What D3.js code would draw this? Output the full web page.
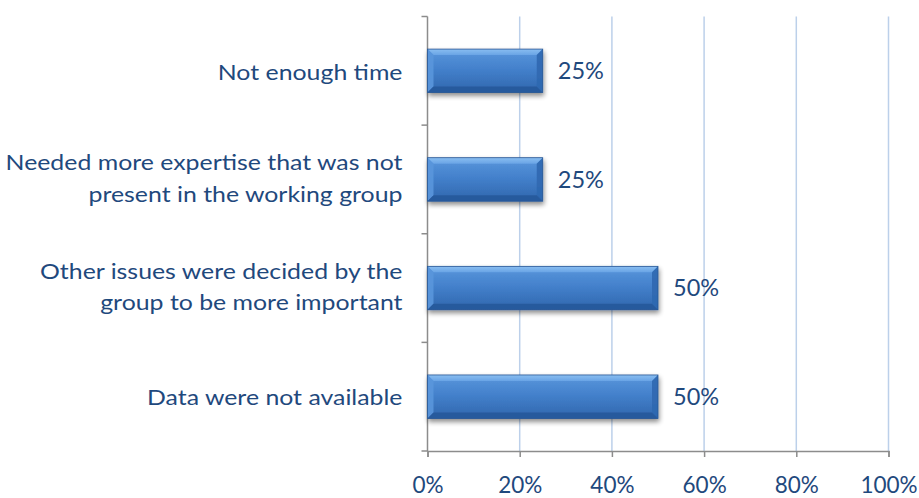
<!DOCTYPE html>
<html>
<head>
<meta charset="utf-8">
<script src="https://cdn.jsdelivr.net/npm/d3@7"></script>
<style>
  html, body { margin: 0; padding: 0; background: #fff; }
  svg { display: block; }
</style>
</head>
<body>
<svg id="chart" width="919" height="498"></svg>
<script>
const categories = [
  "Not enough time",
  "Needed more expertise that was not\npresent in the working group",
  "Other issues were decided by the\ngroup to be more important",
  "Data were not available"
];
const values = [25, 25, 50, 50];
const tickValues = [0, 20, 40, 60, 80, 100];
const tickLabels = ["0%", "20%", "40%", "60%", "80%", "100%"];

const W = 919, H = 498;
const margin = { left: 427.5, right: 30.5, top: 16.5, bottom: 47 };
const svg = d3.select("#chart");
const textColor = "#1F497D";
const fontFamily = "Lato, 'Open Sans', sans-serif";

const x = d3.scaleLinear().domain([0, 100]).range([margin.left, W - margin.right]);
const y = d3.scaleBand().domain(categories).range([margin.top, H - margin.bottom])
  .paddingInner(0.6).paddingOuter(0.3);

const defs = svg.append("defs");
const grad = defs.append("linearGradient").attr("id", "barGrad")
  .attr("x1", 0).attr("y1", 0).attr("x2", 0).attr("y2", 1);
grad.append("stop").attr("offset", "0%").attr("stop-color", "#5a97dc");
grad.append("stop").attr("offset", "45%").attr("stop-color", "#4481cc");
grad.append("stop").attr("offset", "100%").attr("stop-color", "#2f66ad");

const topGrad = defs.append("linearGradient").attr("id", "topGrad")
  .attr("x1", 0).attr("y1", 0).attr("x2", 0).attr("y2", 1);
topGrad.append("stop").attr("offset", "0%").attr("stop-color", "#8cc0f2");
topGrad.append("stop").attr("offset", "100%").attr("stop-color", "#6aa5e6");

const shadow = defs.append("filter").attr("id", "shadow")
  .attr("x", "-10%").attr("y", "-30%").attr("width", "130%").attr("height", "170%");
shadow.append("feGaussianBlur").attr("in", "SourceAlpha").attr("stdDeviation", 2.5).attr("result", "b");
shadow.append("feOffset").attr("in", "b").attr("dx", 1).attr("dy", 3).attr("result", "o");
shadow.append("feComponentTransfer").attr("in", "o").attr("result", "s")
  .append("feFuncA").attr("type", "linear").attr("slope", 0.45);
const merge = shadow.append("feMerge");
merge.append("feMergeNode").attr("in", "s");
merge.append("feMergeNode").attr("in", "SourceGraphic");

// gridlines
svg.append("g").selectAll("line").data(tickValues.filter(d => d > 0)).join("line")
  .attr("x1", d => x(d)).attr("x2", d => x(d))
  .attr("y1", margin.top).attr("y2", H - margin.bottom)
  .attr("stroke", "#bcd0ea").attr("stroke-width", 1.5);

// y axis
const yAxisX = x(0);
svg.append("line").attr("x1", yAxisX).attr("x2", yAxisX)
  .attr("y1", margin.top).attr("y2", H - margin.bottom)
  .attr("stroke", "#8c8c8c").attr("stroke-width", 1.5);
const boundaries = d3.range(categories.length + 1).map(i => margin.top + i * (H - margin.bottom - margin.top) / categories.length);
svg.append("g").selectAll("line").data(boundaries).join("line")
  .attr("x1", yAxisX - 6).attr("x2", yAxisX)
  .attr("y1", d => d).attr("y2", d => d)
  .attr("stroke", "#8c8c8c").attr("stroke-width", 1.5);

// x axis
const xAxisG = svg.append("g").attr("transform", `translate(0,${H - margin.bottom})`)
  .call(d3.axisBottom(x).tickValues(tickValues).tickFormat((d, i) => tickLabels[i]).tickSize(6).tickPadding(20));
xAxisG.select(".domain").attr("stroke", "#8c8c8c").attr("stroke-width", 1.5);
xAxisG.selectAll(".tick line").attr("stroke", "#8c8c8c").attr("stroke-width", 1.5);
xAxisG.selectAll(".tick text").attr("fill", textColor).attr("font-size", 22.5)
  .attr("font-family", fontFamily).attr("dy", "0.71em");

// bars
const bev = 6;
const bars = svg.append("g").selectAll("g").data(categories).join("g")
  .attr("filter", "url(#shadow)");
bars.append("rect")
  .attr("x", x(0)).attr("y", d => y(d))
  .attr("width", (d, i) => x(values[i]) - x(0)).attr("height", y.bandwidth())
  .attr("fill", "url(#barGrad)");
bars.append("polygon").attr("points", (d, i) => {
  const x0 = x(0), x1 = x(values[i]), y0 = y(d);
  return `${x0},${y0} ${x1},${y0} ${x1 - bev},${y0 + bev} ${x0 + bev},${y0 + bev}`;
}).attr("fill", "url(#topGrad)").attr("opacity", 0.95);
bars.append("polygon").attr("points", (d, i) => {
  const x0 = x(0), y0 = y(d), y1 = y(d) + y.bandwidth();
  return `${x0},${y0} ${x0 + bev},${y0 + bev} ${x0 + bev},${y1 - bev} ${x0},${y1}`;
}).attr("fill", "#5a96dc").attr("opacity", 0.9);
bars.append("polygon").attr("points", (d, i) => {
  const x1 = x(values[i]), y0 = y(d), y1 = y(d) + y.bandwidth();
  return `${x1},${y0} ${x1 - bev},${y0 + bev} ${x1 - bev},${y1 - bev} ${x1},${y1}`;
}).attr("fill", "#2f68b0").attr("opacity", 0.9);
bars.append("polygon").attr("points", (d, i) => {
  const x0 = x(0), x1 = x(values[i]), y1 = y(d) + y.bandwidth();
  return `${x0},${y1} ${x1},${y1} ${x1 - bev},${y1 - bev} ${x0 + bev},${y1 - bev}`;
}).attr("fill", "#285a9c").attr("opacity", 0.95);
bars.append("rect")
  .attr("x", x(0)).attr("y", d => y(d))
  .attr("width", (d, i) => x(values[i]) - x(0)).attr("height", y.bandwidth())
  .attr("fill", "none").attr("stroke", "#2a5894").attr("stroke-width", 0.8);

// value labels
svg.append("g").selectAll("text").data(categories).join("text")
  .attr("x", (d, i) => x(values[i]) + 15)
  .attr("y", d => y(d) + y.bandwidth() / 2)
  .attr("dy", "0.35em")
  .attr("fill", textColor).attr("font-size", 23.5).attr("font-family", fontFamily)
  .text((d, i) => values[i] + "%");

// category labels (slightly widened to mimic the original typeface)
const lineH = 31.5;
const labelRight = yAxisX - 25;
const catG = svg.append("g").selectAll("text").data(categories).join("text")
  .attr("text-anchor", "end")
  .attr("transform", `translate(${labelRight},0) scale(1.13,1)`)
  .attr("fill", textColor).attr("font-size", 22).attr("font-family", fontFamily);
catG.each(function(d) {
  const lines = d.split("\n");
  const cy = y(d) + y.bandwidth() / 2 + (lines.length > 1 ? -1.2 : 1);
  const t = d3.select(this);
  lines.forEach((ln, k) => {
    t.append("tspan").attr("x", 0)
      .attr("y", cy + (k - (lines.length - 1) / 2) * lineH)
      .attr("dy", "0.35em").text(ln);
  });
});
</script>
</body>
</html>
